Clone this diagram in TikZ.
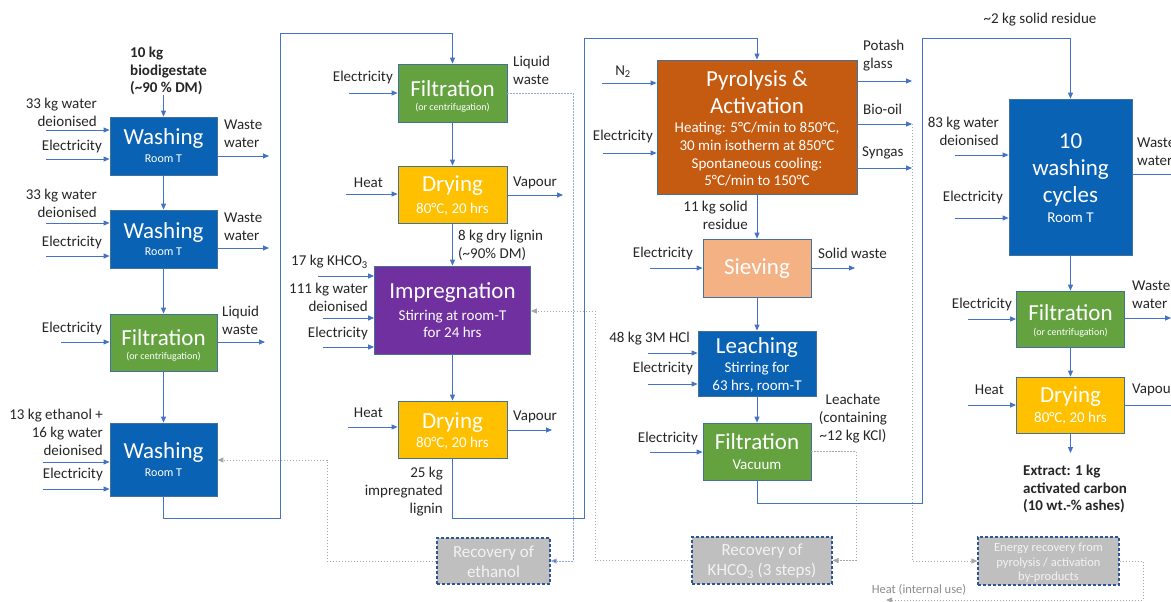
\documentclass[tikz,border=0pt]{standalone}
\usepackage{fontspec}
\setmainfont{Carlito}
\usetikzlibrary{arrows.meta}
\definecolor{cwash}{HTML}{0A62B4}
\definecolor{cfilt}{HTML}{64A23F}
\definecolor{cdry}{HTML}{FFC000}
\definecolor{cimp}{HTML}{7030A0}
\definecolor{cpyr}{HTML}{C55A11}
\definecolor{csie}{HTML}{F4B183}
\definecolor{crec}{HTML}{BFBFBF}
\definecolor{crecb}{HTML}{2F5597}
\definecolor{cbord}{HTML}{41719C}
\definecolor{carr}{HTML}{4472C4}
\definecolor{cdotb}{HTML}{8FAADC}
\definecolor{cdot}{HTML}{A6A6A6}
\definecolor{ctext}{HTML}{262626}
\definecolor{crectext}{HTML}{F2F2F2}
\newcommand\inarr[4]{\coordinate (#1) at (#2,#3); \draw[arr] (#1) -- (#1 -| #4.west);}
\newcommand\outarr[4]{\coordinate (#1) at (#4,#3); \draw[arr] (#1 -| #2.east) -- (#1);}
\tikzset{
  box/.style={draw=cbord, line width=0.8pt, inner sep=0pt},
  rec/.style={draw=crecb, line width=1.2pt, dash pattern=on 3pt off 2pt, fill=crec, inner sep=0pt},
  arr/.style={draw=carr, line width=0.9pt, -{Triangle[length=6pt,width=5pt]}},
  dotg/.style={draw=cdot, line width=0.9pt, dash pattern=on 1.2pt off 1.8pt, -{Triangle[length=6pt,width=5pt]}},
  dotb/.style={draw=cdotb, line width=0.9pt, dash pattern=on 1.2pt off 1.8pt, -{Triangle[length=6pt,width=5pt,fill=carr]}},
  lbl/.style={font=\fontsize{15}{18}\selectfont, text=ctext, inner sep=0pt},
  blbl/.style={font=\fontsize{15}{17.5}\selectfont\bfseries, text=ctext, inner sep=0pt},
  ttl/.style={font=\fontsize{23}{27}\selectfont, text=white, inner sep=0pt, align=center},
  subA/.style={font=\fontsize{15}{17.7}\selectfont, text=white, inner sep=0pt, align=center},
  subB/.style={font=\fontsize{12}{14}\selectfont, text=white, inner sep=0pt, align=center},
  subC/.style={font=\fontsize{10}{12}\selectfont, text=white, inner sep=0pt, align=center},
  rtxt/.style={font=\fontsize{17}{20}\selectfont, text=crectext, inner sep=0pt, align=center},
}
\begin{document}
\begin{tikzpicture}[x=1pt,y=-1pt]
\useasboundingbox (0,0) rectangle (1171,602);
\clip (0,0) rectangle (1171,602);
\fill[white] (0,0) rectangle (1171,602);

% ---------- boxes ----------
\node[box, fill=cwash, minimum width=107pt, minimum height=58pt] (W1) at (163.5,146) {};
\node[box, fill=cwash, minimum width=107pt, minimum height=58pt] (W2) at (163.5,239) {};
\node[box, fill=cfilt, minimum width=107pt, minimum height=57pt] (F1) at (163.5,342.5) {};
\node[box, fill=cwash, minimum width=107pt, minimum height=73pt] (W3) at (163.5,459.5) {};
\node[box, fill=cfilt, minimum width=109pt, minimum height=58pt] (F2) at (452.5,93) {};
\node[box, fill=cdry, minimum width=109pt, minimum height=57pt] (D1) at (452.5,194.5) {};
\node[box, fill=cimp, minimum width=156pt, minimum height=88pt] (IMP) at (452.5,310) {};
\node[box, fill=cdry, minimum width=109pt, minimum height=57pt] (D2) at (452.5,429.5) {};
\node[box, fill=cpyr, minimum width=200pt, minimum height=134pt] (PYR) at (757,127) {};
\node[box, fill=csie, minimum width=108pt, minimum height=58pt] (SIE) at (757,268) {};
\node[box, fill=cwash, minimum width=118pt, minimum height=65pt] (LEA) at (757,363.5) {};
\node[box, fill=cfilt, minimum width=108pt, minimum height=57pt] (F3) at (757,451.5) {};
\node[box, fill=cwash, minimum width=123pt, minimum height=156pt] (WC) at (1070.5,177) {};
\node[box, fill=cfilt, minimum width=108pt, minimum height=56pt] (F4) at (1070.5,319) {};
\node[box, fill=cdry, minimum width=108pt, minimum height=56pt] (D4) at (1070.5,405) {};
\node[rec, minimum width=113pt, minimum height=46pt] (RE) at (493.5,561) {};
\node[rec, minimum width=140pt, minimum height=47pt] (RK) at (762,560.5) {};
\node[rec, minimum width=141pt, minimum height=48pt] (RG) at (1048.5,561) {};

% ---------- box texts ----------
\node[ttl] at (163.5,138) {Washing};
\node[subB] at (163.5,159) {Room T};
\node[ttl] at (163.5,232) {Washing};
\node[subB] at (163.5,252) {Room T};
\node[ttl] at (163.5,338) {Filtration};
\node[subC] at (163.5,357) {(or centrifugation)};
\node[ttl] at (163.5,452) {Washing};
\node[subB] at (163.5,473) {Room T};
\node[ttl] at (452.5,89) {Filtration};
\node[subC] at (452.5,108) {(or centrifugation)};
\node[ttl] at (452.5,186) {Drying};
\node[subA] at (452.5,209) {80°C, 20 hrs};
\node[ttl] at (452.5,293) {Impregnation};
\node[subA] at (452.5,324) {Stirring at room-T\\for 24 hrs};
\node[ttl] at (452.5,423) {Drying};
\node[subA] at (452.5,443) {80°C, 20 hrs};
\node[ttl] at (757,92.5) {Pyrolysis \&\\Activation};
\node[subA] at (757,154.5) {Heating: 5°C/min to 850°C,\\30 min isotherm at 850°C\\Spontaneous cooling:\\5°C/min to 150°C};
\node[ttl] at (757,269) {Sieving};
\node[ttl] at (757,347) {Leaching};
\node[subA] at (757,377) {Stirring for\\63 hrs, room-T};
\node[ttl] at (757,442) {Filtration};
\node[subA] at (757,465) {Vacuum};
\node[ttl] at (1070.5,170) {10\\washing\\cycles};
\node[subA] at (1070.5,218) {Room T};
\node[ttl] at (1070.5,313) {Filtration};
\node[subC] at (1070.5,333) {(or centrifugation)};
\node[ttl] at (1070.5,397) {Drying};
\node[subA] at (1070.5,418) {80°C, 20 hrs};
\node[rtxt] at (493.5,562) {Recovery of\\ethanol};
\node[rtxt] at (762,561) {Recovery of\\KHCO\textsubscript{3} (3 steps)};
\node[rtxt, font=\fontsize{12.5}{14.5}\selectfont] at (1048.5,563) {Energy recovery from\\pyrolysis / activation\\by-products};

% ---------- column 1 ----------
\node[blbl, anchor=west, align=left] at (130,71) {10 kg\\biodigestate\\(\textasciitilde 90 \% DM)};
\coordinate (w1top) at (163.5,95);
\draw[arr] (w1top) -- (W1.north);
\node[lbl, anchor=east, align=right] at (97,112) {33 kg water\\deionised};
\inarr{w1a}{46}{130}{W1}
\node[lbl, anchor=east] at (102,147) {Electricity};
\inarr{w1b}{46}{159}{W1}
\node[lbl, anchor=west, align=left] at (224,134) {Waste\\water};
\outarr{w1c}{W1}{156}{269}
\draw[arr] (W1) -- (W2);

\node[lbl, anchor=east, align=right] at (97,203) {33 kg water\\deionised};
\inarr{w2a}{46}{223}{W2}
\node[lbl, anchor=east] at (102,243) {Electricity};
\inarr{w2b}{46}{256}{W2}
\node[lbl, anchor=west, align=left] at (224,227) {Waste\\water};
\outarr{w2c}{W2}{248}{269}
\draw[arr] (W2) -- (F1);

\node[lbl, anchor=east] at (102,328) {Electricity};
\inarr{f1a}{61}{342}{F1}
\node[lbl, anchor=west, align=left] at (222,320) {Liquid\\waste};
\outarr{f1b}{F1}{342}{265}
\draw[arr] (F1) -- (W3);

\node[lbl, anchor=east, align=right] at (103,432) {13 kg ethanol +\\16 kg water\\deionised};
\inarr{w3a}{43}{462}{W3}
\node[lbl, anchor=east] at (103,474) {Electricity};
\inarr{w3b}{43}{489}{W3}

\coordinate (r1a) at (280,518);
\coordinate (r1b) at (452.5,33);
\draw[arr] (W3.south) |- (r1a) |- (r1b) -- (F2.north);

\coordinate (re1) at (327,460);
\draw[dotg] (RE.west) -| (re1) -- (re1 -| W3.east);

% ---------- column 2 ----------
\node[lbl, anchor=east] at (393,78) {Electricity};
\inarr{f2a}{349}{93}{F2}
\node[lbl, anchor=west, align=left] at (513,70) {Liquid\\waste};
\coordinate (f2b) at (573,93);
\draw[dotb] (F2.east) -- (f2b) |- (RE.east);
\draw[arr] (F2) -- (D1);

\node[lbl, anchor=east] at (383,183) {Heat};
\inarr{d1a}{346}{194}{D1}
\node[lbl, anchor=west] at (513,183) {Vapour};
\outarr{d1b}{D1}{195}{563}
\draw[arr] (D1) -- (IMP);
\node[lbl, anchor=west, align=left] at (458,245) {8 kg dry lignin\\(\textasciitilde 90\% DM)};

\node[lbl, anchor=east] at (368,262) {17 kg KHCO\textsubscript{3}};
\inarr{ia}{318}{276}{IMP}
\node[lbl, anchor=east, align=right] at (368,297) {111 kg water\\deionised};
\inarr{ib}{323}{318}{IMP}
\node[lbl, anchor=east] at (368,333) {Electricity};
\inarr{ic}{323}{347}{IMP}
\coordinate (rk1) at (595,311);
\draw[dotg] (RK.west) -| (rk1) -- (rk1 -| IMP.east);
\draw[arr] (IMP) -- (D2);

\node[lbl, anchor=east] at (383,413) {Heat};
\inarr{d2a}{348}{427}{D2}
\node[lbl, anchor=west] at (513,417) {Vapour};
\outarr{d2b}{D2}{430}{552}
\node[lbl, anchor=east, align=right] at (443,492) {25 kg\\impregnated\\lignin};
\coordinate (r2a) at (584,518);
\coordinate (r2b) at (757,38);
\draw[arr] (D2.south) |- (r2a) |- (r2b) -- (PYR.north);

% ---------- column 3 ----------
\node[lbl] at (623,72) {N\textsubscript{2}};
\inarr{pa}{602}{83}{PYR}
\node[lbl, anchor=east] at (653,137) {Electricity};
\inarr{pb}{603}{153}{PYR}
\node[lbl, anchor=west, align=left] at (863,56) {Potash\\glass};
\outarr{pc}{PYR}{81}{912}
\node[lbl, anchor=west] at (863,109) {Bio-oil};
\outarr{pd}{PYR}{124}{912}
\node[lbl, anchor=west] at (862,153) {Syngas};
\outarr{pe}{PYR}{168}{912}
\draw[dotg] (pd) |- (RG.west);
\node[lbl, anchor=east, align=right] at (748,215) {11 kg solid\\residue};
\draw[arr] (PYR) -- (SIE);

\node[lbl, anchor=east] at (693,253) {Electricity};
\inarr{sa}{650}{268}{SIE}
\node[lbl, anchor=west] at (818,253) {Solid waste};
\outarr{sb}{SIE}{268}{855}
\draw[arr] (SIE) -- (LEA);

\node[lbl, anchor=east] at (690,339) {48 kg 3M HCl};
\inarr{la}{648}{353}{LEA}
\node[lbl, anchor=east] at (693,368) {Electricity};
\inarr{lb}{648}{384}{LEA}
\draw[arr] (LEA) -- (F3);

\node[lbl, anchor=east] at (698,438) {Electricity};
\inarr{fa}{650}{452}{F3}
\node[lbl, align=center] at (853,419) {Leachate\\(containing\\\textasciitilde 12 kg KCl)};
\coordinate (f3b) at (856,451.5);
\draw[dotg] (F3.east) -- (f3b) |- (RK.east);
\coordinate (r3a) at (922,503);
\coordinate (r3b) at (1070.5,38);
\draw[arr] (F3.south) |- (r3a) |- (r3b) -- (WC.north);
\node[lbl] at (1040,20) {\textasciitilde 2 kg solid residue};

% ---------- column 4 ----------
\node[lbl, anchor=east, align=right] at (999,131) {83 kg water\\deionised};
\inarr{wa}{955}{155}{WC}
\node[lbl, anchor=east] at (1003,197) {Electricity};
\inarr{wb}{955}{218}{WC}
\node[lbl, anchor=west, align=left] at (1137,152) {Waste\\water};
\outarr{wc}{WC}{174}{1185}
\draw[arr] (WC) -- (F4);

\node[lbl, anchor=east] at (1012,304) {Electricity};
\inarr{ga}{968}{319}{F4}
\node[lbl, anchor=west, align=left] at (1132,295) {Waste\\water};
\outarr{gb}{F4}{318}{1171}
\draw[arr] (F4) -- (D4);

\node[lbl, anchor=east] at (1004,390) {Heat};
\inarr{ha}{968}{405}{D4}
\node[lbl, anchor=west] at (1132,390) {Vapour};
\outarr{hb}{D4}{405}{1185}
\coordinate (ext) at (1070.5,453);
\draw[arr] (D4) -- (ext);
\node[blbl, anchor=west, align=left] at (1023,489) {Extract: 1 kg\\activated carbon\\(10 wt.-\% ashes)};

\coordinate (g1) at (1143,600);
\coordinate (g2) at (886,600);
\draw[dotg] (RG.east) -| (g1) -- (g2);
\node[font=\fontsize{12.5}{15}\selectfont, text=cdot!85!black, inner sep=0pt] at (919,590) {Heat (internal use)};
\end{tikzpicture}
\end{document}
